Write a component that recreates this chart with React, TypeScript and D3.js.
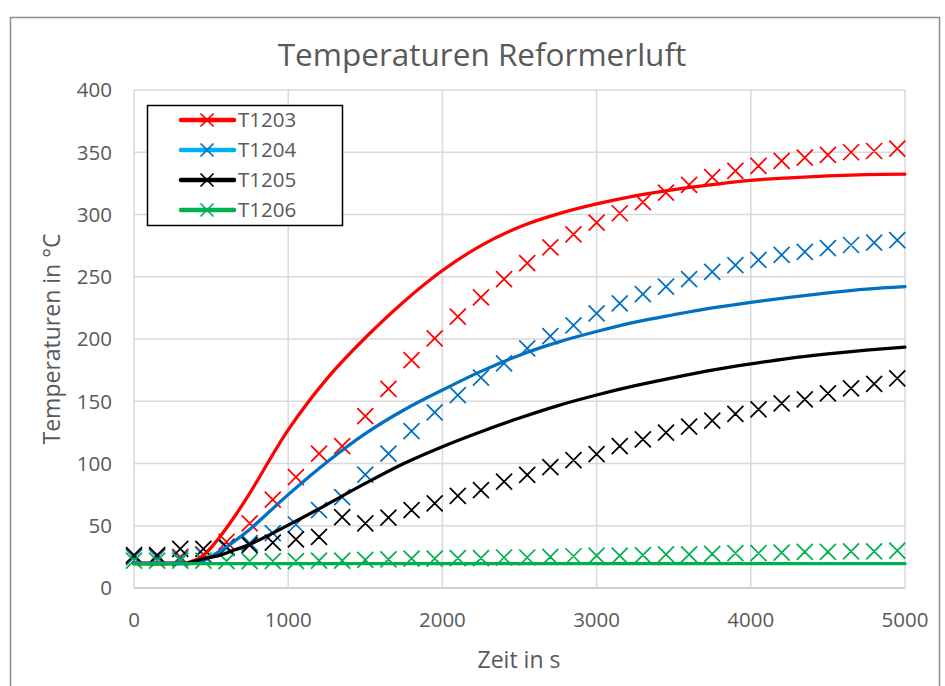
import React from "react";
import * as d3 from "d3";

const simTime = [0, 250, 350, 450, 550, 650, 750, 1000, 1250, 1500, 1750, 2000, 2250, 2500, 2750, 3000, 3250, 3500, 3750, 4000, 4250, 4500, 4750, 5000];
const simT1203 = [20, 20, 20.5, 26, 40, 57, 76, 127, 168, 201, 230, 255, 275, 290, 300.5, 308.5, 315, 320, 324, 327.5, 329.5, 331, 332, 332.5];
const simT1204 = [20, 20, 20, 22, 29, 37.5, 47, 75, 101, 124, 143, 159, 174, 187, 197.5, 206, 213.5, 219.5, 225, 229.5, 233.5, 237, 240, 242];
const simT1205 = [19.5, 19.5, 20, 23.5, 26, 30.5, 35, 50.5, 67, 84, 100, 113.5, 125.5, 136.5, 146.5, 155, 162.5, 169, 175, 180, 184.5, 188, 191, 193.5];
const simT1206 = [19.5, 19.5, 19.5, 19.5, 19.5, 19.5, 19.5, 19.5, 19.5, 19.5, 19.5, 19.5, 19.5, 19.5, 19.5, 19.5, 19.5, 19.5, 19.5, 19.5, 19.5, 19.5, 19.5, 19.5];

const measTime = [0, 150, 300, 450, 600, 750, 900, 1050, 1200, 1350, 1500, 1650, 1800, 1950, 2100, 2250, 2400, 2550, 2700, 2850, 3000, 3150, 3300, 3450, 3600, 3750, 3900, 4050, 4200, 4350, 4500, 4650, 4800, 4950];
const measT1203 = [25, 25, 25, 27, 37, 52, 71, 89, 108, 114, 138, 160, 183, 200.5, 218, 233.5, 248, 261, 273.6, 284, 293.4, 301, 310, 317.5, 323.7, 330, 335, 339, 343, 345.6, 347.8, 350, 351, 353];
const measT1204 = [25, 25, 24, 26.5, 32, 36, 44, 51, 62.6, 73, 91, 108, 126, 141, 155, 169, 180.5, 192.5, 202.4, 211, 220.6, 228.7, 236, 242, 248, 254, 259.4, 263.5, 267.5, 270, 273, 275.5, 277.4, 279.5];
const measT1205 = [26.5, 26.5, 31.5, 31.5, 33, 34.5, 36.4, 39, 41, 57, 52, 56.5, 62.6, 68, 74, 78.7, 85.4, 90.8, 97, 102.8, 107.6, 114, 119.4, 124.8, 129.6, 134.4, 139.8, 143.5, 148.3, 151.5, 156.4, 160.4, 163.9, 168.4];
const measT1206 = [22, 22, 22, 22, 21.5, 21.5, 21.5, 21.5, 22, 22, 22.5, 23, 23.5, 23.5, 24, 24, 24.5, 24.5, 25, 25.5, 26, 26, 26.5, 27, 27, 27.5, 28, 28, 28.5, 29, 29, 29.5, 29.5, 30];

const seriesNames = ["T1203", "T1204", "T1205", "T1206"];
const lineColors = ["#FF0000", "#0070C0", "#000000", "#00B050"];
const legendLineColors = ["#FF0000", "#00B0F0", "#000000", "#00B050"];
const markerColors = ["#FF0000", "#0070C0", "#000000", "#00B050"];

const xTicks = [0, 1000, 2000, 3000, 4000, 5000];
const yTicks = [0, 50, 100, 150, 200, 250, 300, 350, 400];

const W = 945;
const H = 686;
const FONT = "'Open Sans', 'Noto Sans', sans-serif";
const TXT = "#595959";

export default function App() {
  const x = d3.scaleLinear().domain([0, 5000]).range([134, 905]);
  const y = d3.scaleLinear().domain([0, 400]).range([588, 90]);

  const sims = [simT1203, simT1204, simT1205, simT1206];
  const meas = [measT1203, measT1204, measT1205, measT1206];

  const line = d3
    .line<[number, number]>()
    .x((d) => x(d[0]))
    .y((d) => y(d[1]))
    .curve(d3.curveCatmullRom.alpha(0.5));

  const ms = 8;
  const xMark = (cx: number, cy: number, s: number) =>
    `M${cx - s},${cy - s}L${cx + s},${cy + s}M${cx - s},${cy + s}L${cx + s},${cy - s}`;

  const legX = 147;
  const legY = 105;

  return (
    <svg
      width={W}
      height={H}
      style={{ position: "absolute", left: 0, top: 0, background: "#fff" }}
    >
      <rect x={0} y={0} width={W} height={H} fill="#fff" />
      <rect x={10.5} y={17.5} width={929} height={700} fill="#fff" stroke="#8C8C8C" strokeWidth={1.5} />

      <text x={482} y={66} textAnchor="middle" fontFamily={FONT} fontSize={31.5} fill={TXT}>
        Temperaturen Reformerluft
      </text>

      {/* grid */}
      {yTicks.map((t) => (
        <line key={"gy" + t} x1={x(0)} x2={x(5000)} y1={y(t)} y2={y(t)} stroke={t === 0 ? "#BFBFBF" : "#D9D9D9"} strokeWidth={1.5} />
      ))}
      {xTicks.map((t) => (
        <line key={"gx" + t} x1={x(t)} x2={x(t)} y1={y(0)} y2={y(400)} stroke="#D9D9D9" strokeWidth={1.5} />
      ))}

      {/* tick labels */}
      {yTicks.map((t) => (
        <text key={"ty" + t} x={112} y={y(t)} dy="0.36em" textAnchor="end" fontFamily={FONT} fontSize={20.5} fill={TXT}>
          {t}
        </text>
      ))}
      {xTicks.map((t) => (
        <text key={"tx" + t} x={x(t)} y={620} dy="0.36em" textAnchor="middle" fontFamily={FONT} fontSize={20.5} fill={TXT}>
          {t}
        </text>
      ))}

      {/* axis titles */}
      <text x={519} y={660} dy="0.36em" textAnchor="middle" fontFamily={FONT} fontSize={23} fill={TXT}>
        Zeit in s
      </text>
      <text
        transform={`translate(52,339) rotate(-90)`}
        dy="0.36em"
        textAnchor="middle"
        fontFamily={FONT}
        fontSize={23}
        fill={TXT}
      >
        Temperaturen in °C
      </text>

      {/* markers */}
      {meas.map((vals, si) => (
        <path
          key={"m" + si}
          d={vals.map((v, i) => xMark(x(measTime[i]), y(v), ms)).join("")}
          stroke={markerColors[si]}
          strokeWidth={1.75}
          fill="none"
        />
      ))}

      {/* simulation lines */}
      {sims.map((vals, si) => (
        <path
          key={"l" + si}
          d={line(vals.map((v, i) => [simTime[i], v] as [number, number])) || ""}
          stroke={lineColors[si]}
          strokeWidth={3.25}
          fill="none"
          strokeLinejoin="round"
          strokeLinecap="round"
        />
      ))}

      {/* legend */}
      <rect x={legX + 0.5} y={legY + 0.5} width={195} height={120} fill="#fff" stroke="#000" strokeWidth={1.5} />
      {seriesNames.map((n, i) => {
        const cy = 120 + i * 30;
        return (
          <g key={"lg" + n}>
            <line x1={181} x2={234} y1={cy} y2={cy} stroke={legendLineColors[i]} strokeWidth={4.5} strokeLinecap="round" />
            <path d={xMark(207, cy, 6.5)} stroke={markerColors[i]} strokeWidth={1.75} fill="none" />
            <text x={238} y={cy} dy="0.36em" fontFamily={FONT} fontSize={20.5} fill={TXT}>
              {n}
            </text>
          </g>
        );
      })}
    </svg>
  );
}
